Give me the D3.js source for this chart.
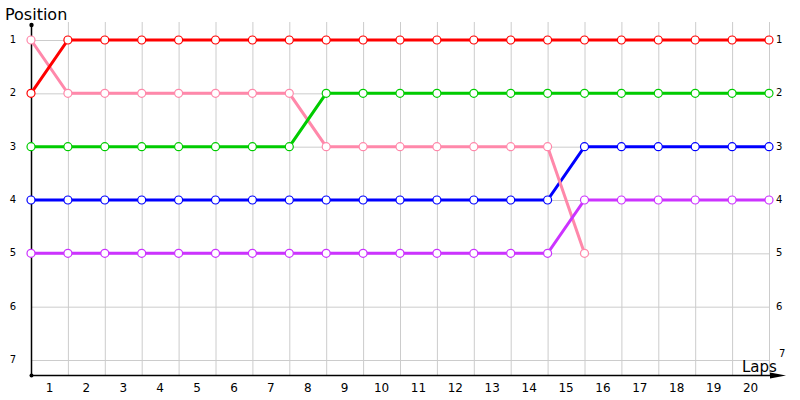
<!DOCTYPE html>
<html>
<head>
<meta charset="utf-8">
<script src="https://cdn.jsdelivr.net/npm/d3@7"></script>
<style>
  body { margin: 0; background: #fff; }
  text { font-family: "DejaVu Sans", Verdana, sans-serif; }
</style>
</head>
<body>
<svg id="chart" width="800" height="400"></svg>
<script>
// laps: index 0 is the start grid, 1..20 are the laps
let lapLabels = d3.range(1, 21);
let positions = [1, 2, 3, 4, 5, 6, 7];

let redPos    = [2, 1, 1, 1, 1, 1, 1, 1, 1, 1, 1, 1, 1, 1, 1, 1, 1, 1, 1, 1, 1];
let pinkPos   = [1, 2, 2, 2, 2, 2, 2, 2, 3, 3, 3, 3, 3, 3, 3, 5];
let greenPos  = [3, 3, 3, 3, 3, 3, 3, 3, 2, 2, 2, 2, 2, 2, 2, 2, 2, 2, 2, 2, 2];
let bluePos   = [4, 4, 4, 4, 4, 4, 4, 4, 4, 4, 4, 4, 4, 4, 4, 3, 3, 3, 3, 3, 3];
let purplePos = [5, 5, 5, 5, 5, 5, 5, 5, 5, 5, 5, 5, 5, 5, 5, 4, 4, 4, 4, 4, 4];

let series = [
  { name: "blue", color: "#0000ff", values: bluePos },
  { name: "pink", color: "#ff88aa", values: pinkPos },
  { name: "purple", color: "#cc33ff", values: purplePos },
  { name: "green", color: "#00cc00", values: greenPos },
  { name: "red", color: "#ff0000", values: redPos }
];

let left = 31, right = 769, bottom = 375;

let xScale = d3.scaleLinear().domain([0, 20]).range([left, right]);
let yScale = d3.scaleLinear().domain([1, 7]).range([40, 360]);

let svg = d3.select("#chart");

// grid
let grid = svg.append("g").style("stroke", "#cccccc").style("stroke-width", 1);
grid.selectAll(".vgrid")
  .data(d3.range(1, 21))
  .enter().append("line")
  .attr("x1", d => xScale(d) + 0.5)
  .attr("x2", d => xScale(d) + 0.5)
  .attr("y1", 22)
  .attr("y2", bottom);
grid.selectAll(".hgrid")
  .data(positions)
  .enter().append("line")
  .attr("x1", left)
  .attr("x2", right)
  .attr("y1", d => yScale(d) + 0.5)
  .attr("y2", d => yScale(d) + 0.5);

// axes
let axes = svg.append("g").style("stroke", "#000").style("stroke-width", 1.5);
axes.append("line")
  .attr("x1", left + 0.5).attr("x2", left + 0.5)
  .attr("y1", bottom).attr("y2", 25);
axes.append("line")
  .attr("x1", left).attr("x2", 778)
  .attr("y1", bottom + 0.5).attr("y2", bottom + 0.5);
svg.append("circle").attr("cx", left + 0.5).attr("cy", 25).attr("r", 2.2).style("fill", "#000");
svg.append("circle").attr("cx", left + 0.5).attr("cy", bottom + 0.5).attr("r", 2).style("fill", "#000");
svg.append("path")
  .attr("d", "M770," + (bottom - 2.5) + "L786," + (bottom + 0.5) + "L770," + (bottom + 3.5) + "Z")
  .style("fill", "#000");

// tick labels
svg.selectAll(".xlab")
  .data(lapLabels)
  .enter().append("text")
  .attr("x", d => (xScale(d - 1) + xScale(d)) / 2)
  .attr("y", 392)
  .attr("text-anchor", "middle")
  .style("font-size", "12px")
  .style("fill", "#000")
  .text(d => d);

svg.selectAll(".ylabL")
  .data(positions)
  .enter().append("text")
  .attr("x", 16)
  .attr("y", d => yScale(d) + 3)
  .attr("text-anchor", "end")
  .style("font-size", "10px")
  .style("fill", "#000")
  .text(d => d);

svg.selectAll(".ylabR")
  .data(positions)
  .enter().append("text")
  .attr("x", d => d === 7 ? 779 : 776)
  .attr("y", d => d === 7 ? yScale(d) - 3 : yScale(d) + 3)
  .style("font-size", "10px")
  .style("fill", "#000")
  .text(d => d);

svg.append("text")
  .attr("x", 5).attr("y", 20)
  .style("font-size", "16px")
  .style("fill", "#000")
  .text("Position");

svg.append("text")
  .attr("x", 742).attr("y", 372)
  .style("font-size", "15px")
  .style("fill", "#000")
  .text("Laps");

// lines
let line = d3.line()
  .x((d, i) => xScale(i))
  .y(d => yScale(d));

svg.selectAll(".series")
  .data(series)
  .enter().append("path")
  .attr("d", d => line(d.values))
  .style("fill", "none")
  .style("stroke", d => d.color)
  .style("stroke-width", 3);

// markers
series.forEach(function(s) {
  svg.selectAll(".m-" + s.name)
    .data(s.values)
    .enter().append("circle")
    .attr("cx", (d, i) => xScale(i))
    .attr("cy", d => yScale(d))
    .attr("r", 4)
    .style("fill", "#fff")
    .style("stroke", s.color)
    .style("stroke-width", 1.2);
});
</script>
</body>
</html>
